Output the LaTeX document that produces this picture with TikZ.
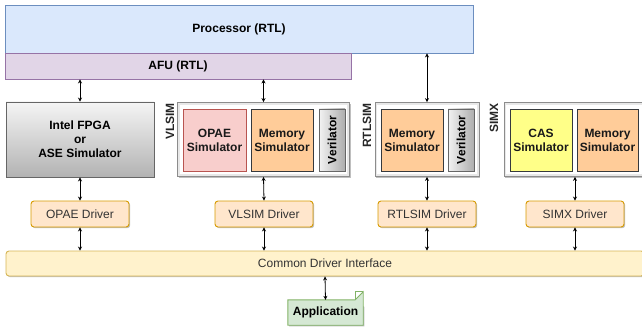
\documentclass[tikz,border=0pt]{standalone}
\usepackage{fontspec}
\setmainfont{Liberation Sans}
\usepackage{xcolor}
\usepackage{tikz}
\usetikzlibrary{arrows.meta,shadows,backgrounds}
\definecolor{procfill}{HTML}{DAE8FC}
\definecolor{procline}{HTML}{6C8EBF}
\definecolor{afufill}{HTML}{E1D5E7}
\definecolor{afuline}{HTML}{9673A6}
\definecolor{opaefill}{HTML}{F8CECC}
\definecolor{opaeline}{HTML}{B85450}
\definecolor{memfill}{HTML}{FFCC99}
\definecolor{casfill}{HTML}{FFFF88}
\definecolor{darkline}{HTML}{36393D}
\definecolor{drvfill}{HTML}{FFE6CC}
\definecolor{drvline}{HTML}{D79B00}
\definecolor{cdifill}{HTML}{FFF2CC}
\definecolor{cdiline}{HTML}{D6B656}
\definecolor{appfill}{HTML}{D5E8D4}
\definecolor{appline}{HTML}{82B366}
\newcommand{\basefont}{\fontsize{12}{14}\selectfont}
\tikzset{box/.style={draw,rectangle,inner sep=1pt,align=center,font=\basefont},
    bold/.style={font=\basefont\bfseries},
    softshadow/.style={drop shadow={shadow xshift=1.2pt,shadow yshift=-1.2pt,opacity=0.25,fill=black}},
    proc/.style={box,bold,fill=procfill,draw=procline,line width=0.9pt},
    afu/.style={box,bold,fill=afufill,draw=afuline,line width=0.9pt},
    gray box/.style={box,bold,draw=black!60,line width=0.9pt},
    sim/.style={box,draw=black!45,line width=0.8pt,fill=black!9,softshadow,
        minimum height=74,inner sep=0pt,
        path picture={\fill[white] ([xshift=2.2pt,yshift=-2.2pt]path picture bounding box.north west)
            rectangle ([xshift=-2.2pt,yshift=2.2pt]path picture bounding box.south east);}},
    simlabel/.style={rotate=90,anchor=east,inner sep=0pt,bold,text=black!85},
    part/.style={box,bold,line width=0.9pt,minimum height=62,text=black!90},
    verilator/.style={part,draw=black!60,left color=black!5,right color=black!32,minimum width=26},
    drv/.style={box,rounded corners=3pt,fill=drvfill,draw=drvline,line width=0.9pt,softshadow,
        minimum width=98,minimum height=26,text=black!80},
    arr/.style={{Stealth[length=4pt,width=4pt]}-{Stealth[length=4pt,width=4pt]},line width=0.8pt}}
\begin{document}
\begin{tikzpicture}[x=1pt,y=-1pt]
    \useasboundingbox (0,0) rectangle (642,331);
    \node[proc,minimum width=468,minimum height=48] (proc) at (239,29) {Processor (RTL)};
    \node[afu,minimum width=346,minimum height=26] (afu) at (178,66) {AFU (RTL)};

    \node[gray box,top color=black!4,bottom color=black!30,softshadow,
        minimum width=148,minimum height=75] (fpga) at (80,139.5) {Intel FPGA\\or\\ASE Simulator};

    \node[sim,minimum width=172] (vlsim) at (263.5,139.5) {};
    \node[part,fill=opaefill,draw=opaeline,minimum width=63] (vopae) at (214.5,140) {OPAE\\Simulator};
    \node[part,fill=memfill,draw=darkline,minimum width=62] (vmem) at (282,140) {Memory\\Simulator};
    \node[verilator] (vver) at (332,140) {};
    \node[rotate=90,bold] at (vver) {Verilator};
    \node[simlabel] (vlab) at (170,103) {VLSIM};

    \node[sim,minimum width=104] (rtlsim) at (427,139.5) {};
    \node[part,fill=memfill,draw=darkline,minimum width=62] (rmem) at (412,140) {Memory\\Simulator};
    \node[verilator] (rver) at (461,140) {};
    \node[rotate=90,bold] at (rver) {Verilator};
    \node[simlabel] (rlab) at (367,103) {RTLSIM};

    \node[sim,minimum width=142] (simx) at (575,139.5) {};
    \node[part,fill=casfill,draw=darkline,minimum width=62] (cas) at (541,140) {CAS\\Simulator};
    \node[part,fill=memfill,draw=darkline,minimum width=61] (smem) at (607.5,140) {Memory\\Simulator};
    \node[simlabel] (slab) at (494,103) {SIMX};

    \node[drv] (odrv) at (80,214) {OPAE Driver};
    \node[drv] (vdrv) at (264,214) {VLSIM Driver};
    \node[drv] (rdrv) at (427,214) {RTLSIM Driver};
    \node[drv] (sdrv) at (575,214) {SIMX Driver};

    \node[box,rounded corners=3pt,fill=cdifill,draw=cdiline,line width=0.9pt,softshadow,
        minimum width=638,minimum height=25,text=black!80] (cdi) at (325,263.5) {Common Driver Interface};

    \node[inner sep=0pt,minimum width=75,minimum height=25,bold] (app) at (325.5,312.5) {Application};
    \begin{scope}[on background layer]
        \fill[black,opacity=0.25] ([shift={(1.2,1.2)}]app.south west) -- ([shift={(1.2,1.2)}]app.north west)
            -- ([shift={(-6.8,1.2)}]app.north east) -- ([shift={(1.2,7.2)}]app.north east)
            -- ([shift={(1.2,1.2)}]app.south east) -- cycle;
        \draw[fill=appfill,draw=appline,line width=0.9pt] (app.south west) -- (app.north west)
            -- ([xshift=-8]app.north east) -- ([yshift=8]app.north east) -- (app.south east) -- cycle;
        \draw[draw=appline,line width=0.9pt] ([xshift=-8]app.north east) -- ([xshift=-8,yshift=8]app.north east)
            -- ([yshift=8]app.north east);
    \end{scope}

    \draw[arr] (fpga.north) -- (fpga.north |- afu.south);
    \draw[arr] (vlsim.north) -- (vlsim.north |- afu.south);
    \draw[arr] (rtlsim.north) -- (rtlsim.north |- proc.south);
    \draw[arr] (fpga.south) -- (odrv.north);
    \draw[arr] (vlsim.south) -- (vdrv.north);
    \draw[arr] (rtlsim.south) -- (rdrv.north);
    \draw[arr] (simx.south) -- (sdrv.north);
    \foreach \d in {odrv,vdrv,rdrv,sdrv}
        \draw[arr] (\d.south) -- (\d.south |- cdi.north);
    \draw[arr] (cdi.south) -- (app.north);
\end{tikzpicture}
\end{document}
